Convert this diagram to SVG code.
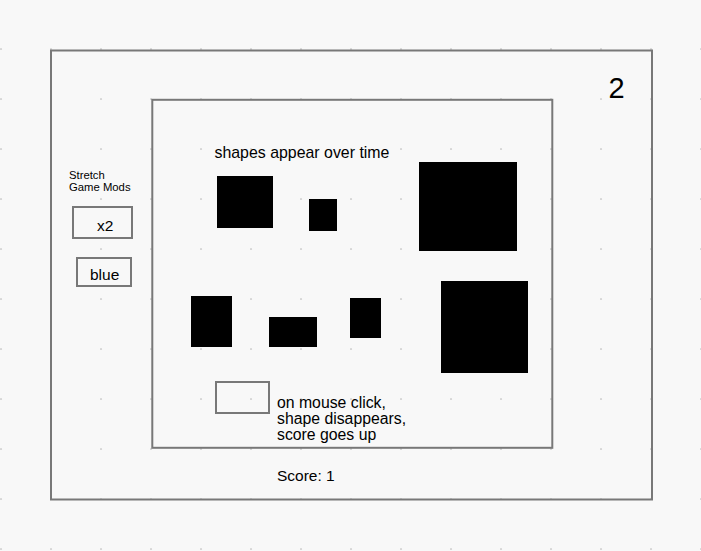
<svg xmlns="http://www.w3.org/2000/svg" width="701" height="551" viewBox="0 0 701 551">
<defs>
<pattern id="dots" x="0" y="0" width="50" height="50" patternUnits="userSpaceOnUse">
<circle cx="1" cy="49" r="1.1" fill="#d4d4d4"/>
</pattern>
<style>
.frame{fill:none;stroke:#787878;stroke-width:2}
.box{fill:none;stroke:#787878;stroke-width:2}
.shape{fill:#000}
text{font-family:"Liberation Sans",Arial,sans-serif;fill:#000}
.t{font-size:15.5px}
.s{font-size:11.3px}
</style>
</defs>
<rect width="701" height="551" fill="#f8f8f8"/>
<rect width="701" height="551" fill="url(#dots)"/>
<g id="screen">
<rect class="frame" x="51" y="50.5" width="601" height="449"/>
<text x="608.5" y="97.5" style="font-size:29px">2</text>
<text class="t" x="277" y="481">Score: 1</text>
</g>
<g id="mods">
<text class="s" x="69" y="179">Stretch</text>
<text class="s" x="69" y="191">Game Mods</text>
</g>
<g id="x2">
<rect class="box" x="73" y="207" width="59" height="31"/>
<text class="t" x="97" y="231">x2</text>
</g>
<g id="blue">
<rect class="box" x="77" y="258" width="54" height="28"/>
<text class="t" x="90" y="279.5">blue</text>
</g>
<g id="playfield">
<rect class="frame" x="152.3" y="99.8" width="400" height="348"/>
<text x="214.5" y="157.5" style="font-size:15.9px">shapes appear over time</text>
</g>
<g id="shapes">
<rect class="shape" x="217" y="176" width="56" height="52"/>
<rect class="shape" x="309" y="199" width="28" height="32"/>
<rect class="shape" x="419" y="162" width="98" height="89"/>
<rect class="shape" x="441" y="281" width="87" height="92"/>
<rect class="shape" x="191" y="296" width="41" height="51"/>
<rect class="shape" x="269" y="317" width="48" height="30"/>
<rect class="shape" x="350" y="298" width="31" height="40"/>
</g>
<g id="click">
<rect class="box" x="216" y="382" width="53" height="31"/>
<text class="t" x="277" y="408" style="font-size:15.8px">on mouse click,</text>
<text class="t" x="277" y="424" style="font-size:15.8px">shape disappears,</text>
<text class="t" x="277" y="440" style="font-size:15.8px">score goes up</text>
</g>
<g id="connectors"></g>
</svg>
